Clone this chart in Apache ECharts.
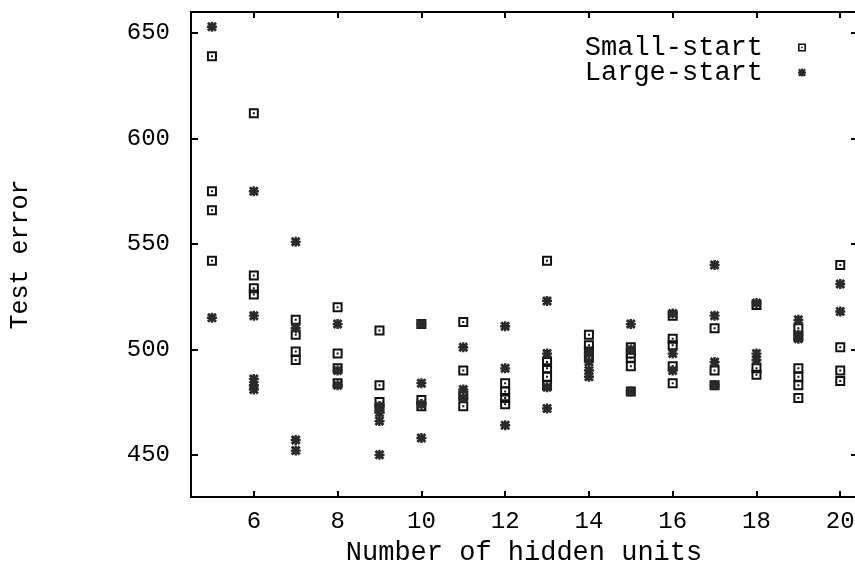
<!DOCTYPE html>
<html>
<head>
<meta charset="utf-8">
<script src="https://cdn.jsdelivr.net/npm/echarts@6/dist/echarts.min.js"></script>
<style>
html,body{margin:0;padding:0;background:#fff;}
#chart{width:855px;height:562px;}
</style>
</head>
<body>
<div id="chart"></div>
<script>
// ---- data ----
const hiddenUnits = [5, 6, 7, 8, 9, 10, 11, 12, 13, 14, 15, 16, 17, 18, 19, 20];
const smallStartErrors = [
  [639, 575, 566, 542],
  [612, 535, 529, 526],
  [514, 507, 499, 495],
  [520, 498, 491, 484],
  [509, 483, 475, 472],
  [512, 476, 473],
  [513, 490, 478, 473],
  [484, 480, 477, 474],
  [542, 494, 491, 487, 483],
  [507, 502, 499, 496],
  [501, 498, 496, 492, 480],
  [516, 505, 502, 492, 484],
  [510, 490, 483],
  [521, 491, 488],
  [510, 506, 491, 487, 483, 477],
  [540, 501, 490, 485]
];
const largeStartErrors = [
  [653, 515],
  [575, 516, 486, 483, 481],
  [551, 510, 457, 452],
  [512, 490, 483],
  [473, 470, 466, 450],
  [512, 484, 474, 458],
  [501, 481, 477],
  [511, 491, 464],
  [523, 498, 482, 472],
  [498, 494, 490, 487],
  [512, 500, 480],
  [517, 498, 490],
  [540, 516, 494, 483],
  [522, 498, 495],
  [514, 507, 505],
  [531, 518]
];
const xTickValues = [6, 8, 10, 12, 14, 16, 18, 20];
const yTickValues = [450, 500, 550, 600, 650];
const seriesNames = ['Small-start', 'Large-start'];

function toPoints(groups) {
  const pts = [];
  groups.forEach((vals, i) => vals.forEach(v => pts.push([hiddenUnits[i], v])));
  return pts;
}

const squareSym = 'path://M0,0H10V10H0Z M2,2V8H8V2Z M4,4H6V6H4Z';
const starSym = 'path://M2,0L10,8L8,10L0,2Z M8,0L10,2L2,10L0,8Z M3.8,0H6.2V3.8H10V6.2H6.2V10H3.8V6.2H0V3.8H3.8Z';

const FONT = '"Liberation Mono", "DejaVu Sans Mono", monospace';

const chart = echarts.init(document.getElementById('chart'), null, {renderer: 'canvas'});
const axisLine = {show: true, lineStyle: {color: '#000', width: 2}};
const tickStyle = {lineStyle: {color: '#000', width: 2}};

chart.setOption({
  animation: false,
  backgroundColor: '#fff',
  grid: {left: 191, top: 12, width: 666, height: 485, outerBoundsMode: 'none', containLabel: false},
  legend: {
    orient: 'vertical',
    right: 44,
    top: 29,
    align: 'right',
    itemWidth: 8,
    itemHeight: 8,
    itemGap: -2,
    textStyle: {fontFamily: FONT, fontSize: 27, color: '#000', padding: [0, 30, 0, 0]},
    data: [
      {name: seriesNames[0], icon: squareSym},
      {name: seriesNames[1], icon: starSym}
    ]
  },
  xAxis: [{
    type: 'value', min: 4.5, max: 20.4, position: 'bottom',
    name: 'Number of hidden units', nameLocation: 'middle', nameGap: 38,
    nameTextStyle: {fontFamily: FONT, fontSize: 27, color: '#000'},
    axisLine: axisLine,
    axisTick: Object.assign({show: true, inside: true, length: 6, customValues: xTickValues}, tickStyle),
    axisLabel: {show: true, margin: 13, fontFamily: FONT, fontSize: 24, color: '#000', customValues: xTickValues},
    splitLine: {show: false}
  }, {
    type: 'value', min: 4.5, max: 20.4, position: 'top',
    axisLine: axisLine,
    axisTick: Object.assign({show: true, inside: true, length: 6, customValues: xTickValues}, tickStyle),
    axisLabel: {show: false},
    splitLine: {show: false}
  }],
  yAxis: [{
    type: 'value', min: 430, max: 660, position: 'left',
    name: 'Test error', nameLocation: 'middle', nameGap: 158, nameRotate: 90,
    nameTextStyle: {fontFamily: FONT, fontSize: 25, color: '#000'},
    axisLine: axisLine,
    axisTick: Object.assign({show: true, inside: true, length: 7, customValues: yTickValues}, tickStyle),
    axisLabel: {show: true, margin: 21, fontFamily: FONT, fontSize: 24, color: '#000', customValues: yTickValues},
    splitLine: {show: false}
  }, {
    type: 'value', min: 430, max: 660, position: 'right',
    axisLine: axisLine,
    axisTick: Object.assign({show: true, inside: true, length: 6, customValues: yTickValues}, tickStyle),
    axisLabel: {show: false},
    splitLine: {show: false}
  }],
  series: [{
    name: seriesNames[0], type: 'scatter', xAxisIndex: 0, yAxisIndex: 0,
    symbol: squareSym, symbolSize: 10, symbolKeepAspect: true,
    itemStyle: {color: '#111', opacity: 1},
    data: toPoints(smallStartErrors)
  }, {
    name: seriesNames[1], type: 'scatter', xAxisIndex: 0, yAxisIndex: 0,
    symbol: starSym, symbolSize: 10, symbolKeepAspect: true,
    itemStyle: {color: '#2a2a2a', opacity: 1},
    data: toPoints(largeStartErrors)
  }]
});
</script>
</body>
</html>
